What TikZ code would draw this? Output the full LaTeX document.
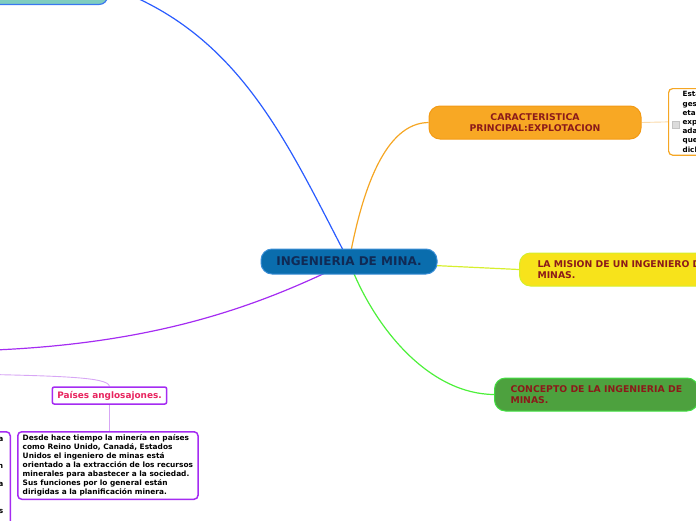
\documentclass[tikz,border=0pt]{standalone}
\usepackage{fontspec}
\setmainfont{DejaVu Sans}
\usetikzlibrary{backgrounds}

\definecolor{mainfill}{HTML}{0A6DAD}
\definecolor{mainborder}{HTML}{3A8ED6}
\definecolor{maintext}{HTML}{102A55}
\definecolor{topictext}{HTML}{8B1A1A}
\definecolor{caracfill}{HTML}{F8A824}
\definecolor{caracborder}{HTML}{F39A14}
\definecolor{misionfill}{HTML}{F7E31B}
\definecolor{misionborder}{HTML}{D6EE2A}
\definecolor{conceptofill}{HTML}{4DA13E}
\definecolor{conceptoborder}{HTML}{40E040}
\definecolor{topfill}{HTML}{7FCDC0}
\definecolor{topborder}{HTML}{3A77F0}
\definecolor{blueline}{HTML}{2A5CFF}
\definecolor{orangeline}{HTML}{F5A623}
\definecolor{yellowline}{HTML}{D7EF2E}
\definecolor{greenline}{HTML}{4DF03A}
\definecolor{purpleline}{HTML}{A52CF2}
\definecolor{twigpurple}{HTML}{D7A6F5}
\definecolor{twigorange}{HTML}{FAD9A8}
\definecolor{checkfill}{HTML}{DCDCDC}
\definecolor{checkborder}{HTML}{C4C4C4}
\definecolor{anglotext}{HTML}{E8245F}

\begin{document}
\begin{tikzpicture}[x=1pt,y=-1pt]
\tikzset{
  topic/.style={draw,rounded corners=11pt,line width=1pt,font=\fontsize{9.3}{11.5}\selectfont\bfseries,text=topictext,minimum height=33pt,inner xsep=16pt},
  subbox/.style={draw,rounded corners=4pt,line width=1.5pt,fill=white,font=\fontsize{7.4}{9}\selectfont\bfseries,inner xsep=5pt,inner ysep=3pt},
  branch/.style={line width=1.2pt},
  twig/.style={line width=0.9pt}
}
\useasboundingbox (0,0) rectangle (696,520);
\node[draw=topborder,fill=topfill,line width=1.2pt,rounded corners=8pt,minimum width=200pt,minimum height=36pt,anchor=south east] (n_top) at (108,5) {};
\node[draw=mainborder,fill=mainfill,line width=1pt,rounded corners=11pt,minimum width=176pt,minimum height=25pt,font=\fontsize{12}{14}\selectfont\bfseries,text=maintext] (n_main) at (349,261.5) {INGENIERIA DE MINA.};
\node[topic,draw=caracborder,fill=caracfill,align=center,minimum width=212pt] (n_carac) at (535,122.5) {CARACTERISTICA\\PRINCIPAL:EXPLOTACION};
\node[topic,draw=misionborder,fill=misionfill,align=left,anchor=west,inner xsep=18pt] (n_mision) at (519,269.5) {LA MISION DE UN INGENIERO DE\\MINAS.};
\node[topic,draw=conceptoborder,fill=conceptofill,align=left,anchor=west,inner xsep=16pt] (n_concepto) at (494,394.5) {CONCEPTO DE LA INGENIERIA DE\\MINAS.};
\node[subbox,draw=orangeline,line width=1.2pt,align=left,text width=80pt,inner xsep=14pt,anchor=north west,font=\fontsize{7.2}{9.2}\selectfont\bfseries] (n_esta) at (668,88) {Esta\\ges\\etap\\exp\\ada\\que\\dich};
\node[draw=checkborder,fill=checkfill,minimum size=7pt,inner sep=0pt] (n_check) at (676,124.5) {};
\node[subbox,draw=purpleline,rounded corners=2pt,font=\fontsize{8.9}{10}\selectfont\bfseries,text=anglotext,inner ysep=2pt,minimum height=17pt] (n_anglo) at (109.5,395.5) {Países anglosajones.};
\node[subbox,draw=purpleline,align=left,anchor=north west] (n_desde) at (17,431) {Desde hace tiempo la minería en países\\como Reino Unido, Canadá, Estados\\Unidos el ingeniero de minas está\\orientado a la extracción de los recursos\\minerales para abastecer a la sociedad.\\Sus funciones por lo general están\\dirigidas a la planificación minera.};
\node[subbox,draw=purpleline,align=right,text width=80pt,inner xsep=7pt,inner ysep=6pt,anchor=north east] (n_left) at (11,431) {a\\[18pt]n\\[9pt]a\\[18pt]s\\[9pt]~};
\coordinate (c_purple) at (-40,351);
\coordinate (c_twig) at (-30,374);
\begin{scope}[on background layer]
\draw[branch,draw=blueline] (n_main.center) .. controls (287,143) and (240,32) .. (n_top.east);
\draw[branch,draw=orangeline] (n_main.center) .. controls (362,190) and (385,123) .. (n_carac.west);
\draw[branch,draw=yellowline] (n_main.center) -- (n_mision.west);
\draw[branch,draw=greenline] (n_main.center) .. controls (375,330) and (430,394) .. (n_concepto.west);
\draw[branch,draw=purpleline] (n_main.center) .. controls (259,306) and (150,348) .. (c_purple);
\draw[twig,draw=twigorange] (n_carac.east) -- (n_esta.west);
\draw[twig,draw=twigpurple] (c_twig) .. controls (60,376) and (108,377) .. (n_anglo.north);
\draw[twig,draw=twigpurple] (n_anglo.south) -- (n_anglo.south |- n_desde.north);
\end{scope}
\end{tikzpicture}
\end{document}
